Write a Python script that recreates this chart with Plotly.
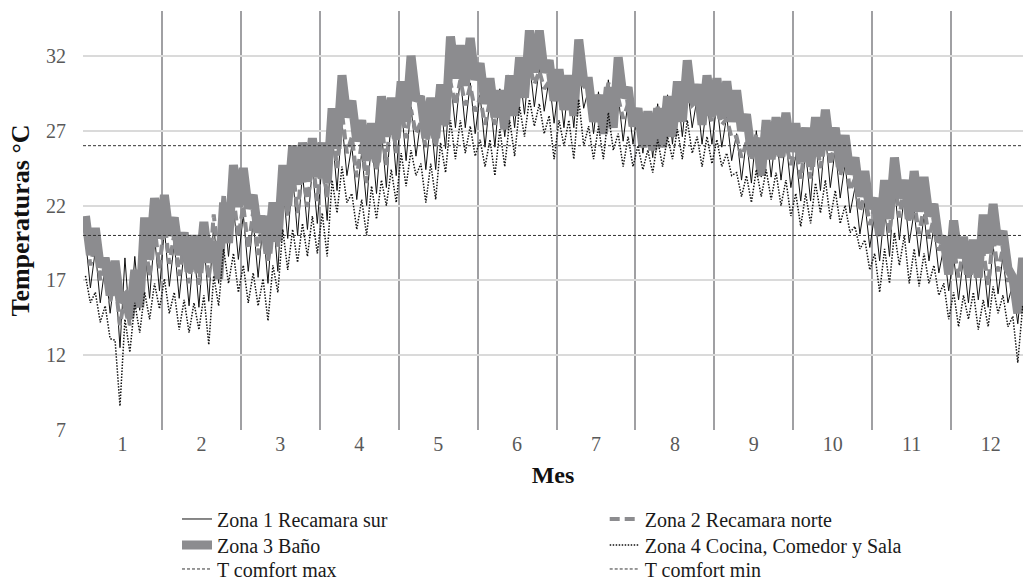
import plotly.graph_objects as go

# ---------------- data ----------------
months = list(range(1, 13))
month_labels = [str(m) for m in months]
y_ticks = [7, 12, 17, 22, 27, 32]
samples_per_month = 8
t_comfort_max = 26
t_comfort_min = 20

# Zona 1 Recamara sur: upper / lower envelope of daily swing (8 samples per month)
zona1_hi = [19.8, 19.0, 18.0, 17.5, 18.5, 18.6, 19.2, 20.0,
            20.5, 19.5, 19.0, 19.2, 19.5, 20.8, 22.2, 22.0,
            21.4, 21.0, 20.8, 21.5, 23.5, 24.0, 24.2, 24.6,
            25.0, 27.0, 27.6, 26.0, 25.6, 26.5, 27.0, 28.0,
            28.8, 28.6, 27.8, 27.8, 29.0, 30.4, 30.6, 30.2,
            29.4, 29.2, 29.8, 30.2, 31.0, 31.6, 31.2, 30.5,
            30.2, 30.5, 31.4, 29.8, 29.6, 30.4, 29.4, 29.0,
            28.5, 28.2, 28.8, 29.4, 29.8, 30.0, 29.2, 29.0,
            28.8, 28.0, 26.8, 26.4, 27.0, 27.2, 27.0, 26.4,
            25.4, 25.6, 26.4, 26.8, 25.8, 24.8, 23.2, 22.2,
            21.4, 21.8, 23.4, 22.8, 21.6, 21.4, 20.6, 19.2,
            18.6, 18.6, 18.8, 18.4, 19.4, 18.6, 16.8, 17.4]
zona1_lo = [16.5, 15.5, 14.8, 12.5, 14.0, 15.0, 15.8, 16.3,
            16.6, 15.8, 15.3, 15.2, 15.6, 16.8, 18.6, 18.4,
            17.6, 17.2, 16.8, 17.6, 19.8, 20.0, 20.4, 20.8,
            21.0, 23.0, 24.0, 22.4, 22.0, 22.8, 23.2, 24.0,
            25.0, 25.3, 24.4, 24.4, 25.8, 27.2, 27.2, 26.8,
            25.9, 25.9, 26.6, 27.2, 28.1, 28.6, 28.3, 27.5,
            27.2, 27.2, 28.5, 26.8, 26.8, 27.6, 26.3, 26.1,
            25.5, 25.2, 25.9, 26.1, 26.6, 27.2, 26.1, 26.1,
            25.9, 25.0, 23.7, 23.5, 23.9, 23.9, 23.7, 23.2,
            22.3, 22.3, 23.0, 23.2, 22.5, 21.5, 20.1, 19.2,
            18.3, 18.6, 19.7, 19.5, 18.6, 18.3, 17.5, 16.3,
            15.7, 15.5, 15.7, 15.2, 16.1, 15.5, 14.1, 14.8]

# Zona 2 Recamara norte
zona2_hi = [20.4, 19.6, 18.0, 17.0, 16.0, 17.5, 19.8, 20.6,
            21.1, 20.1, 19.6, 19.8, 20.1, 21.4, 22.8, 22.6,
            22.0, 21.6, 21.4, 22.1, 24.1, 24.6, 24.8, 25.2,
            25.6, 27.6, 28.2, 26.6, 26.2, 27.1, 27.6, 28.6,
            28.6, 28.4, 27.6, 27.6, 28.8, 30.2, 30.4, 30.0,
            29.2, 29.0, 29.6, 30.0, 30.8, 31.4, 31.0, 30.3,
            30.0, 30.3, 31.2, 29.6, 29.4, 30.2, 29.2, 28.8,
            28.3, 28.0, 28.6, 29.2, 29.6, 29.8, 29.0, 28.8,
            28.6, 27.8, 26.6, 26.2, 26.8, 27.0, 26.8, 26.2,
            26.0, 26.2, 27.0, 27.4, 26.4, 25.4, 23.8, 22.8,
            22.0, 22.4, 24.0, 23.4, 22.2, 22.0, 21.2, 19.8,
            19.2, 19.2, 19.4, 19.0, 20.0, 19.2, 17.0, 18.0]
zona2_lo = [18.0, 17.0, 15.6, 14.0, 14.0, 15.5, 17.3, 17.8,
            18.1, 17.3, 16.8, 16.7, 17.1, 18.3, 20.1, 19.9,
            19.1, 18.7, 18.3, 19.1, 21.3, 21.5, 21.9, 22.3,
            22.5, 24.5, 25.5, 23.9, 23.5, 24.3, 24.7, 25.5,
            26.5, 26.8, 25.9, 25.9, 27.3, 28.7, 28.7, 28.3,
            27.4, 27.4, 28.1, 28.7, 29.6, 30.1, 29.8, 29.0,
            28.7, 28.7, 30.0, 28.3, 28.3, 29.1, 27.8, 27.6,
            27.0, 26.7, 27.4, 27.6, 28.1, 28.7, 27.6, 27.6,
            27.4, 26.5, 25.2, 25.0, 25.4, 25.4, 25.2, 24.7,
            23.8, 23.8, 24.5, 24.7, 24.0, 23.0, 21.6, 20.7,
            19.8, 20.1, 21.2, 21.0, 20.1, 19.8, 19.0, 17.8,
            17.2, 17.0, 17.2, 16.7, 17.6, 17.0, 15.6, 16.3]

# Zona 3 Baño
zona3_hi = [21.3, 20.5, 18.5, 18.3, 15.9, 17.7, 21.2, 22.5,
            22.7, 21.2, 20.2, 20.0, 20.9, 19.6, 22.2, 24.7,
            24.5, 22.7, 21.3, 22.2, 24.7, 26.0, 26.2, 26.5,
            26.2, 28.5, 30.7, 29.0, 27.7, 27.5, 29.3, 29.2,
            30.3, 32.0, 29.1, 29.2, 30.1, 33.3, 32.7, 33.2,
            31.5, 30.5, 29.7, 30.7, 31.9, 33.7, 33.7, 31.7,
            31.1, 30.7, 33.1, 30.3, 29.4, 29.9, 31.9, 29.9,
            28.5, 28.3, 28.5, 29.3, 30.3, 31.7, 30.1, 30.7,
            30.5, 30.3, 29.7, 28.1, 26.5, 27.7, 27.9, 28.2,
            27.5, 27.2, 27.9, 28.4, 27.2, 26.7, 25.2, 24.3,
            22.5, 23.7, 25.2, 23.7, 24.3, 23.9, 22.1, 19.9,
            21.0, 19.9, 19.7, 21.4, 22.1, 20.3, 17.2, 18.5]
zona3_lo = [18.7, 17.9, 16.0, 15.6, 14.5, 15.2, 18.4, 19.8,
            20.0, 18.7, 17.6, 17.5, 18.2, 17.1, 19.5, 21.9,
            21.8, 20.2, 18.8, 19.6, 22.0, 23.4, 23.6, 23.9,
            23.5, 25.8, 27.9, 26.3, 25.0, 24.9, 26.6, 26.5,
            27.6, 29.2, 26.5, 26.5, 27.4, 30.5, 30.0, 30.4,
            28.8, 27.9, 27.1, 28.0, 29.2, 30.9, 30.9, 29.0,
            28.4, 28.0, 30.3, 27.6, 26.8, 27.2, 29.2, 27.3,
            25.9, 25.7, 25.9, 26.6, 27.6, 28.9, 27.4, 28.0,
            27.8, 27.6, 27.0, 25.5, 24.0, 25.1, 25.3, 25.6,
            24.9, 24.6, 25.3, 25.7, 24.6, 24.1, 22.6, 21.8,
            20.0, 21.1, 22.5, 21.1, 21.6, 21.3, 19.6, 17.4,
            18.5, 17.4, 17.2, 18.8, 19.4, 17.8, 14.8, 16.0]

# Zona 4 Cocina, Comedor y Sala
zona4_hi = [17.3, 16.2, 15.3, 13.0, 14.4, 15.5, 16.2, 16.8,
            17.1, 16.2, 15.7, 15.5, 16.0, 17.3, 19.1, 18.8,
            18.0, 17.5, 17.1, 18.0, 20.4, 20.4, 20.8, 21.3,
            21.5, 23.7, 24.6, 22.8, 22.4, 23.3, 23.7, 24.4,
            25.5, 25.7, 24.8, 24.8, 26.2, 27.7, 27.7, 27.3,
            26.4, 26.4, 27.1, 27.7, 28.6, 29.1, 28.8, 28.0,
            27.7, 27.7, 29.1, 27.3, 27.3, 28.2, 26.8, 26.6,
            26.0, 25.7, 26.4, 26.6, 27.1, 27.7, 26.6, 26.6,
            26.4, 25.5, 24.2, 24.0, 24.4, 24.4, 24.2, 23.7,
            22.8, 22.8, 23.5, 23.7, 23.0, 22.0, 20.6, 19.7,
            18.8, 19.1, 20.2, 20.0, 19.1, 18.8, 18.0, 16.8,
            16.2, 16.0, 16.2, 15.7, 16.6, 16.0, 14.6, 15.3]
zona4_lo = [15.5, 14.2, 13.1, 8.6, 12.2, 13.5, 14.4, 15.1,
            14.8, 13.7, 13.5, 13.7, 12.7, 15.3, 16.8, 16.2,
            15.5, 15.3, 14.3, 16.2, 17.7, 18.2, 18.6, 18.8,
            18.6, 21.5, 22.2, 20.4, 20.0, 21.1, 22.0, 22.2,
            23.3, 24.0, 22.2, 22.4, 24.2, 25.1, 25.5, 25.3,
            24.6, 24.0, 24.6, 25.3, 26.6, 27.3, 26.8, 25.1,
            26.0, 25.1, 26.0, 25.1, 25.1, 25.7, 24.6, 24.6,
            24.4, 24.2, 24.6, 25.1, 25.1, 25.5, 24.6, 24.8,
            24.6, 24.0, 22.6, 22.2, 22.6, 22.4, 22.0, 21.3,
            20.6, 20.8, 21.5, 21.1, 20.8, 20.2, 19.1, 17.7,
            16.2, 16.8, 18.0, 16.8, 16.6, 16.8, 16.0, 14.4,
            13.9, 14.4, 13.7, 13.9, 14.8, 13.9, 11.5, 12.7]

# ---------------- helpers ----------------
def zigzag(hi, lo):
    """Alternate upper/lower readings along the month axis."""
    xs, ys = [], []
    for k, (h, l) in enumerate(zip(hi, lo)):
        xs += [0.5 + (k + 0.25) / samples_per_month, 0.5 + (k + 0.75) / samples_per_month]
        ys += [h, l]
    return xs, ys

GRAY = "#8c8c8f"
FONT = "Liberation Serif, Times New Roman, serif"
LEG_FONT = dict(family=FONT, size=20, color="#1a1a1a")
COL_X = [0.1, 0.555]
ROW_Y = [-0.2124, -0.2745, -0.3317]

fig = go.Figure()

x1, y1 = zigzag(zona1_hi, zona1_lo)
fig.add_trace(go.Scatter(x=x1, y=y1, mode="lines", name="Zona 1 Recamara sur", legend="legend",
                         line=dict(color="#111111", width=1)))
x2, y2 = zigzag(zona2_hi, zona2_lo)
fig.add_trace(go.Scatter(x=x2, y=y2, mode="lines", name="Zona 2 Recamara norte", legend="legend2",
                         line=dict(color=GRAY, width=4, dash="10px,5px")))
x3, y3 = zigzag(zona3_hi, zona3_lo)
fig.add_trace(go.Scatter(x=x3, y=y3, mode="lines", name="Zona 3 Baño", legend="legend3",
                         line=dict(color=GRAY, width=9)))
x4, y4 = zigzag(zona4_hi, zona4_lo)
fig.add_trace(go.Scatter(x=x4, y=y4, mode="lines", name="Zona 4 Cocina, Comedor y Sala", legend="legend4",
                         line=dict(color="#111111", width=1.5, dash="1.5px,1.5px")))
fig.add_trace(go.Scatter(x=[0.5, 12.5], y=[t_comfort_max, t_comfort_max], mode="lines",
                         name="T comfort max", legend="legend5",
                         line=dict(color="#333333", width=1, dash="3px,2px")))
fig.add_trace(go.Scatter(x=[0.5, 12.5], y=[t_comfort_min, t_comfort_min], mode="lines",
                         name="T comfort min", legend="legend6",
                         line=dict(color="#333333", width=1, dash="3px,2px")))

def leg(col, row):
    return dict(x=COL_X[col], xanchor="left", y=ROW_Y[row], yanchor="middle",
                font=LEG_FONT, bgcolor="rgba(0,0,0,0)", borderwidth=0)

fig.update_layout(
    width=1023, height=583,
    margin=dict(l=83, r=0, t=11, b=153, autoexpand=False),
    paper_bgcolor="white", plot_bgcolor="white",
    font=dict(family=FONT, color="#595959", size=20),
    showlegend=True,
    legend=leg(0, 0), legend2=leg(1, 0),
    legend3=leg(0, 1), legend4=leg(1, 1),
    legend5=leg(0, 2), legend6=leg(1, 2),
)
fig.update_xaxes(
    range=[0.5, 12.41], tickmode="array", tickvals=months, ticktext=month_labels,
    showgrid=False, zeroline=False, showline=False, ticks="",
    tickfont=dict(family=FONT, size=20, color="#595959"),
    minor=dict(tick0=0.5, dtick=1, showgrid=True, gridcolor="#a0a0a3", gridwidth=2, ticks=""),
    title=dict(text="<b>Mes</b>", font=dict(family=FONT, size=24, color="#111111"), standoff=12),
)
fig.update_yaxes(
    range=[7, 35], tickmode="array", tickvals=y_ticks,
    showgrid=True, gridcolor="#dadada", gridwidth=2, zeroline=False, showline=False,
    tickfont=dict(family=FONT, size=20, color="#595959"), ticks="", ticklabelstandoff=16,
    title=dict(text="<b>Temperaturas °C</b>", font=dict(family=FONT, size=26, color="#111111"), standoff=8),
)

fig.write_html("out.html")
